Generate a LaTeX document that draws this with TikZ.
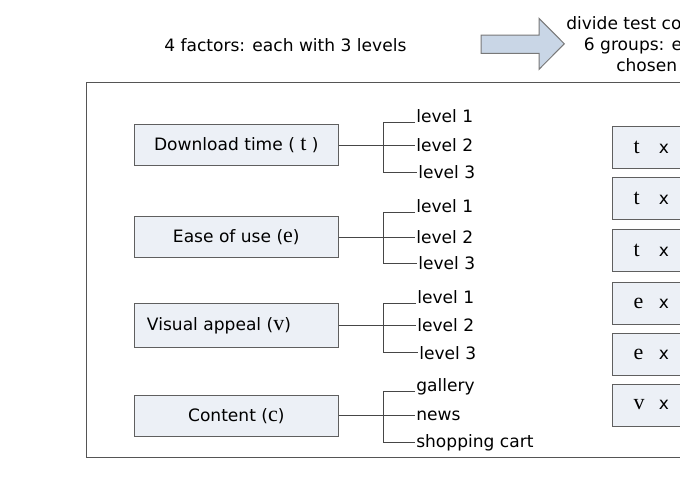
\documentclass[tikz,border=0pt]{standalone}
\usepackage{fontspec}
\setmainfont{DejaVu Sans}
\newfontfamily\letterfont{Liberation Serif}
\usepackage{tikz}

\newcommand{\factorvar}[1]{{\letterfont\fontsize{16.5}{16.5}\selectfont #1}}

\begin{document}
\begin{tikzpicture}[x=0.75pt,y=0.75pt,yscale=-1,xscale=1,
  font=\fontsize{12.8}{16}\selectfont,
  factor/.style={draw={rgb, 255:red, 95; green, 95; blue, 95 }, fill={rgb, 255:red, 236; green, 240; blue, 246 }, line width=0.75, minimum width=153pt, minimum height=31pt, inner sep=0.75pt},
  pair/.style={draw={rgb, 255:red, 95; green, 95; blue, 95 }, fill={rgb, 255:red, 236; green, 240; blue, 246 }, line width=0.75, anchor=west, minimum height=31.5pt, text width=100pt, inner xsep=16pt, inner ysep=0pt, align=left},
  lvl/.style={inner sep=0.75pt},
  wire/.style={color={rgb, 255:red, 70; green, 70; blue, 70 }, line width=0.75}]
        \useasboundingbox (0,0) rectangle (680,500);
        \clip (0,0) rectangle (680,500);
        % frame and heading
        \draw  [color={rgb, 255:red, 85; green, 85; blue, 85 }  ,line width=1] (86.7,82.7) rectangle (720,457.3) ;
        \draw  [color={rgb, 255:red, 120; green, 120; blue, 120 }  ,fill={rgb, 255:red, 201; green, 214; blue, 230 }  ,fill opacity=1 ][line width=0.75] (481,35) -- (539,35) -- (539,18.3) -- (564.3,43.8) -- (539,69.3) -- (539,53.3) -- (481,53.3) -- cycle ;
        \draw (163,51.5) node [anchor=base west][inner sep=0.75pt] (head) {4 factors: each with 3 levels};
        \draw (565,29) node [anchor=base west][inner sep=0.75pt] (note1) {divide test co};
        \draw (582.7,50) node [anchor=base west][inner sep=0.75pt] (note2) {6 groups: e};
        \draw (615,71) node [anchor=base west][inner sep=0.75pt] (note3) {chosen};
        % factors
        \coordinate (brk) at (383.5,0);
        \draw (236.3,145.2) node [factor] (dl) {Download time ( \factorvar{t} )};
        \draw (415,122) node [anchor=base west][lvl] (dl1) {level 1};
        \draw (415,145.2) node [anchor=west][lvl] (dl2) {level 2};
        \draw (417,172) node [anchor=west][lvl] (dl3) {level 3};
        \draw [wire] (dl.east) -- (dl2.west);
        \draw [wire] (dl1.base west) -- (dl1.base west -| brk) -- (dl3.west -| brk) -- (dl3.west);
        \draw (236.3,237) node [factor] (ease) {Ease of use (\factorvar{e})};
        \draw (415,212.7) node [anchor=base west][lvl] (el1) {level 1};
        \draw (415,237) node [anchor=west][lvl] (el2) {level 2};
        \draw (417,263.3) node [anchor=west][lvl] (el3) {level 3};
        \draw [wire] (ease.east) -- (el2.west);
        \draw [wire] (el1.base west) -- (el1.base west -| brk) -- (el3.west -| brk) -- (el3.west);
        \draw (236.3,325.5) node [factor, minimum height=33pt] (vis) {Visual appeal (\factorvar{v})\hspace*{26pt}\mbox{}};
        \draw (416,303.3) node [anchor=base west][lvl] (vl1) {level 1};
        \draw (416,325.5) node [anchor=west][lvl] (vl2) {level 2};
        \draw (418,352.7) node [anchor=west][lvl] (vl3) {level 3};
        \draw [wire] (vis.east) -- (vl2.west);
        \draw [wire] (vl1.base west) -- (vl1.base west -| brk) -- (vl3.west -| brk) -- (vl3.west);
        \draw (236.3,415.9) node [factor] (cont) {Content (\factorvar{c})};
        \draw (415,391.5) node [anchor=base west][lvl] (cl1) {gallery};
        \draw (415,415.9) node [anchor=west][lvl] (cl2) {news};
        \draw (415,442.3) node [anchor=west][lvl] (cl3) {shopping cart};
        \draw [wire] (cont.east) -- (cl2.west);
        \draw [wire] (cl1.base west) -- (cl1.base west -| brk) -- (cl3.west -| brk) -- (cl3.west);
        % pairs of factors
        \draw (611.7,147) node [pair] (p1) {\makebox[19pt][l]{\factorvar{t}}x};
        \draw (611.7,198) node [pair] (p2) {\makebox[19pt][l]{\factorvar{t}}x};
        \draw (611.7,250) node [pair] (p3) {\makebox[19pt][l]{\factorvar{t}}x};
        \draw (611.7,303) node [pair] (p4) {\makebox[19pt][l]{\factorvar{e}}x};
        \draw (611.7,354) node [pair] (p5) {\makebox[19pt][l]{\factorvar{e}}x};
        \draw (611.7,405) node [pair] (p6) {\makebox[19pt][l]{\factorvar{v}}x};
\end{tikzpicture}
\end{document}
